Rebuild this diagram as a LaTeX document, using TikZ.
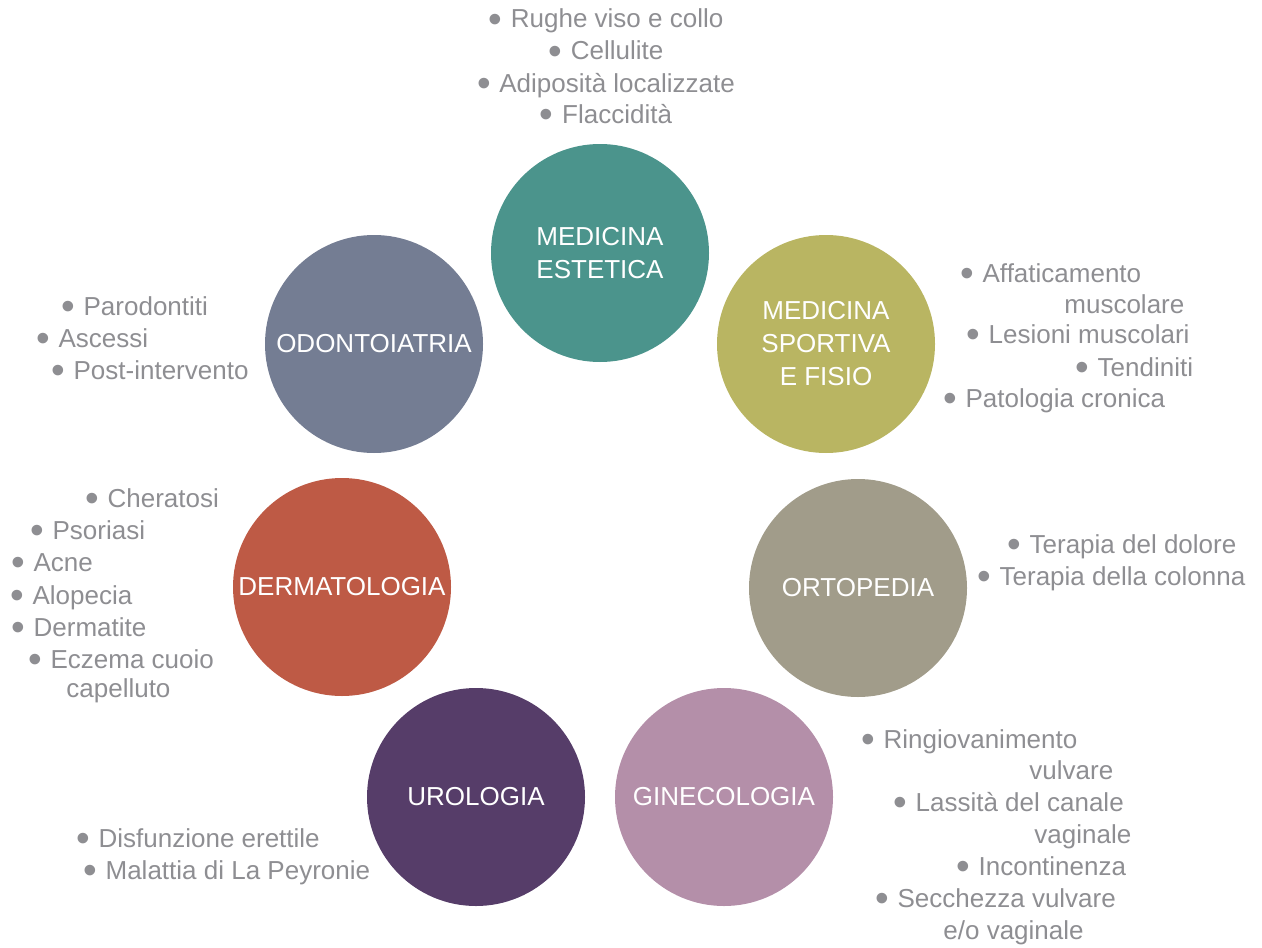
\documentclass[tikz,border=0pt]{standalone}
\usepackage{fontspec}
\setmainfont{Liberation Sans}
\definecolor{estcol}{HTML}{4B948C}
\definecolor{odocol}{HTML}{747D93}
\definecolor{spocol}{HTML}{B9B562}
\definecolor{dercol}{HTML}{BE5A45}
\definecolor{ortcol}{HTML}{A19C8A}
\definecolor{urocol}{HTML}{563D69}
\definecolor{gincol}{HTML}{B48FA9}
\definecolor{txtgray}{HTML}{8E8E92}
\newcommand{\blt}{\raisebox{-0.18em}[0pt][0pt]{\scalebox{1.5}{\textbullet}}\hspace{0.33em}}

\begin{document}
\begin{tikzpicture}[x=0.5pt,y=-0.5pt,
	area/.style={circle, minimum size=109pt, inner sep=0pt, text=white, align=center, font=\fontsize{13}{16.5}\selectfont},
	item/.style={anchor=base west, inner sep=0pt, text=txtgray, font=\fontsize{13}{16}\selectfont},
	citem/.style={item, anchor=base}]
	\useasboundingbox (0,0) rectangle (1262,947);

	% circles
	\node[area, fill=estcol] (est) at (600,253) {MEDICINA\\ESTETICA};
	\node[area, fill=odocol] (odo) at (374,344) {ODONTOIATRIA};
	\node[area, fill=spocol] (spo) at (826,344) {MEDICINA\\SPORTIVA\\E FISIO};
	\node[area, fill=dercol] (der) at (342,587) {DERMATOLOGIA};
	\node[area, fill=ortcol] (ort) at (858,588) {ORTOPEDIA};
	\node[area, fill=urocol] (uro) at (476,797) {UROLOGIA};
	\node[area, fill=gincol] (gin) at (724,797) {GINECOLOGIA};

	% medicina estetica
	\node[citem] (est1) at (606,28) {\blt Rughe viso e collo};
	\node[citem] (est2) at (606,60) {\blt Cellulite};
	\node[citem] (est3) at (606,92) {\blt Adiposità localizzate};
	\node[citem] (est4) at (606,123) {\blt Flaccidità};

	% medicina sportiva
	\node[item] (spo1) at (960,282) {\blt Affaticamento};
	\node[item] (spo1b) at (1064,313) {muscolare};
	\node[item] (spo2) at (966,343) {\blt Lesioni muscolari};
	\node[item] (spo3) at (1075,376) {\blt Tendiniti};
	\node[item] (spo4) at (943,407) {\blt Patologia cronica};

	% odontoiatria
	\node[item] (odo1) at (61,315) {\blt Parodontiti};
	\node[item] (odo2) at (36,347) {\blt Ascessi};
	\node[item] (odo3) at (51,379) {\blt Post-intervento};

	% dermatologia
	\node[item] (der1) at (85,507) {\blt Cheratosi};
	\node[item] (der2) at (30,539) {\blt Psoriasi};
	\node[item] (der3) at (11,571) {\blt Acne};
	\node[item] (der4) at (10,604) {\blt Alopecia};
	\node[item] (der5) at (11,636) {\blt Dermatite};
	\node[item] (der6) at (28,668) {\blt Eczema cuoio};
	\node[item] (der6b) at (66,697) {capelluto};

	% ortopedia
	\node[item] (ort1) at (1007,553) {\blt Terapia del dolore};
	\node[item] (ort2) at (977,585) {\blt Terapia della colonna};

	% ginecologia
	\node[item] (gin1) at (861,748) {\blt Ringiovanimento};
	\node[item] (gin1b) at (1029,779) {vulvare};
	\node[item] (gin2) at (893,811) {\blt Lassità del canale};
	\node[item] (gin2b) at (1034,843) {vaginale};
	\node[item] (gin3) at (956,875) {\blt Incontinenza};
	\node[item] (gin4) at (875,907) {\blt Secchezza vulvare};
	\node[item] (gin4b) at (943,939) {e/o vaginale};

	% urologia
	\node[item] (uro1) at (76,847) {\blt Disfunzione erettile};
	\node[item] (uro2) at (83,879) {\blt Malattia di La Peyronie};
\end{tikzpicture}
\end{document}
